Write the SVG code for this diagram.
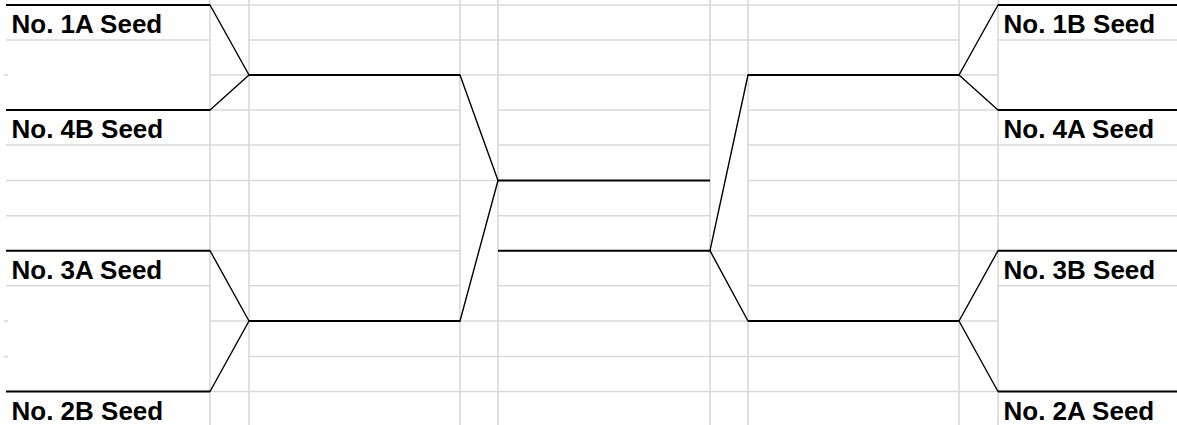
<svg xmlns="http://www.w3.org/2000/svg" width="1177" height="425" viewBox="0 0 1177 425">
<style>
.grid line{stroke:#d9d9d9;stroke-width:1.6;fill:none}
.slot{stroke:#000;stroke-width:2;fill:none}
.diag{stroke:#000;stroke-width:1.4;fill:none;stroke-linecap:round}
.lbl{font-family:"Liberation Sans",Arial,sans-serif;font-weight:bold;font-size:26px;fill:#000}
</style>
<rect width="1177" height="425" fill="#fff"/>
<g id="grid" class="grid">
<!-- vertical gridlines -->
<line x1="210" y1="0" x2="210" y2="425"/>
<line x1="249" y1="0" x2="249" y2="425"/>
<line x1="460" y1="0" x2="460" y2="425"/>
<line x1="498" y1="0" x2="498" y2="425"/>
<line x1="710" y1="0" x2="710" y2="425"/>
<line x1="748" y1="0" x2="748" y2="425"/>
<line x1="959" y1="0" x2="959" y2="425"/>
<line x1="998" y1="0" x2="998" y2="425"/>
<!-- col A stubs -->
<line x1="4" y1="75" x2="8" y2="75"/>
<line x1="4" y1="321" x2="8" y2="321"/>
<line x1="4" y1="356.5" x2="8" y2="356.5"/>
<!-- col B -->
<line x1="6" y1="40" x2="210" y2="40"/>
<line x1="6" y1="145" x2="210" y2="145"/>
<line x1="6" y1="180.5" x2="210" y2="180.5"/>
<line x1="6" y1="215.7" x2="210" y2="215.7"/>
<line x1="6" y1="285.7" x2="210" y2="285.7"/>
<!-- col C -->
<line x1="210" y1="5" x2="249" y2="5"/>
<line x1="210" y1="75" x2="249" y2="75"/>
<line x1="210" y1="110" x2="249" y2="110"/>
<line x1="210" y1="145" x2="249" y2="145"/>
<line x1="210" y1="180.5" x2="249" y2="180.5"/>
<line x1="210" y1="215.7" x2="249" y2="215.7"/>
<line x1="210" y1="250.7" x2="249" y2="250.7"/>
<line x1="210" y1="321" x2="249" y2="321"/>
<line x1="210" y1="391.5" x2="249" y2="391.5"/>
<!-- col D -->
<line x1="249" y1="5" x2="460" y2="5"/>
<line x1="249" y1="40" x2="460" y2="40"/>
<line x1="249" y1="110" x2="460" y2="110"/>
<line x1="249" y1="145" x2="460" y2="145"/>
<line x1="249" y1="180.5" x2="460" y2="180.5"/>
<line x1="249" y1="215.7" x2="460" y2="215.7"/>
<line x1="249" y1="250.7" x2="460" y2="250.7"/>
<line x1="249" y1="285.7" x2="460" y2="285.7"/>
<line x1="249" y1="356.5" x2="460" y2="356.5"/>
<line x1="249" y1="391.5" x2="460" y2="391.5"/>
<!-- col E -->
<line x1="460" y1="5" x2="498" y2="5"/>
<line x1="460" y1="40" x2="498" y2="40"/>
<line x1="460" y1="75" x2="498" y2="75"/>
<line x1="460" y1="180.5" x2="498" y2="180.5"/>
<line x1="460" y1="321" x2="498" y2="321"/>
<line x1="460" y1="356.5" x2="498" y2="356.5"/>
<line x1="460" y1="391.5" x2="498" y2="391.5"/>
<!-- col F -->
<line x1="498" y1="5" x2="710" y2="5"/>
<line x1="498" y1="40" x2="710" y2="40"/>
<line x1="498" y1="75" x2="710" y2="75"/>
<line x1="498" y1="110" x2="710" y2="110"/>
<line x1="498" y1="145" x2="710" y2="145"/>
<line x1="498" y1="215.7" x2="710" y2="215.7"/>
<line x1="498" y1="285.7" x2="710" y2="285.7"/>
<line x1="498" y1="321" x2="710" y2="321"/>
<line x1="498" y1="356.5" x2="710" y2="356.5"/>
<line x1="498" y1="391.5" x2="710" y2="391.5"/>
<!-- col G -->
<line x1="710" y1="5" x2="748" y2="5"/>
<line x1="710" y1="40" x2="748" y2="40"/>
<line x1="710" y1="75" x2="748" y2="75"/>
<line x1="710" y1="250.7" x2="748" y2="250.7"/>
<line x1="710" y1="321" x2="748" y2="321"/>
<line x1="710" y1="356.5" x2="748" y2="356.5"/>
<line x1="710" y1="391.5" x2="748" y2="391.5"/>
<!-- col H -->
<line x1="748" y1="5" x2="959" y2="5"/>
<line x1="748" y1="40" x2="959" y2="40"/>
<line x1="748" y1="110" x2="959" y2="110"/>
<line x1="748" y1="145" x2="959" y2="145"/>
<line x1="748" y1="180.5" x2="959" y2="180.5"/>
<line x1="748" y1="215.7" x2="959" y2="215.7"/>
<line x1="748" y1="250.7" x2="959" y2="250.7"/>
<line x1="748" y1="285.7" x2="959" y2="285.7"/>
<line x1="748" y1="356.5" x2="959" y2="356.5"/>
<line x1="748" y1="391.5" x2="959" y2="391.5"/>
<!-- col I -->
<line x1="959" y1="5" x2="998" y2="5"/>
<line x1="959" y1="75" x2="998" y2="75"/>
<line x1="959" y1="110" x2="998" y2="110"/>
<line x1="959" y1="145" x2="998" y2="145"/>
<line x1="959" y1="180.5" x2="998" y2="180.5"/>
<line x1="959" y1="215.7" x2="998" y2="215.7"/>
<line x1="959" y1="250.7" x2="998" y2="250.7"/>
<line x1="959" y1="321" x2="998" y2="321"/>
<line x1="959" y1="391.5" x2="998" y2="391.5"/>
<!-- col J -->
<line x1="998" y1="40" x2="1177" y2="40"/>
<line x1="998" y1="145" x2="1177" y2="145"/>
<line x1="998" y1="180.5" x2="1177" y2="180.5"/>
<line x1="998" y1="215.7" x2="1177" y2="215.7"/>
<line x1="998" y1="285.7" x2="1177" y2="285.7"/>
</g>
<g id="seed-1a"><line class="slot" x1="6" y1="5" x2="210" y2="5"/><text class="lbl" x="11.5" y="33.3">No. 1A Seed</text></g>
<g id="seed-4b"><line class="slot" x1="6" y1="110" x2="210" y2="110"/><text class="lbl" x="11.5" y="138">No. 4B Seed</text></g>
<g id="seed-3a"><line class="slot" x1="6" y1="250.7" x2="210" y2="250.7"/><text class="lbl" x="11.5" y="278.7">No. 3A Seed</text></g>
<g id="seed-2b"><line class="slot" x1="6" y1="391.5" x2="210" y2="391.5"/><text class="lbl" x="11.5" y="419.5">No. 2B Seed</text></g>
<g id="seed-1b"><line class="slot" x1="998" y1="5" x2="1177" y2="5"/><text class="lbl" x="1003.5" y="33.3">No. 1B Seed</text></g>
<g id="seed-4a"><line class="slot" x1="998" y1="110" x2="1177" y2="110"/><text class="lbl" x="1003.5" y="138">No. 4A Seed</text></g>
<g id="seed-3b"><line class="slot" x1="998" y1="250.7" x2="1177" y2="250.7"/><text class="lbl" x="1003.5" y="278.7">No. 3B Seed</text></g>
<g id="seed-2a"><line class="slot" x1="998" y1="391.5" x2="1177" y2="391.5"/><text class="lbl" x="1003.5" y="419.5">No. 2A Seed</text></g>
<g id="connectors">
<!-- left semifinal slots -->
<line class="slot" x1="249" y1="75" x2="460" y2="75"/>
<line class="slot" x1="249" y1="321" x2="460" y2="321"/>
<!-- final slots -->
<line class="slot" x1="498" y1="180.5" x2="710" y2="180.5"/>
<line class="slot" x1="498" y1="250.7" x2="710" y2="250.7"/>
<!-- right semifinal slots -->
<line class="slot" x1="748" y1="75" x2="959" y2="75"/>
<line class="slot" x1="748" y1="321" x2="959" y2="321"/>
<!-- left diagonals -->
<line class="diag" x1="210" y1="5" x2="249" y2="75"/>
<line class="diag" x1="210" y1="110" x2="249" y2="75"/>
<line class="diag" x1="210" y1="250.7" x2="249" y2="321"/>
<line class="diag" x1="210" y1="391.5" x2="249" y2="321"/>
<line class="diag" x1="460" y1="75" x2="498" y2="180.5"/>
<line class="diag" x1="460" y1="321" x2="498" y2="180.5"/>
<!-- right diagonals -->
<line class="diag" x1="710" y1="250.7" x2="748" y2="75"/>
<line class="diag" x1="710" y1="250.7" x2="748" y2="321"/>
<line class="diag" x1="998" y1="5" x2="959" y2="75"/>
<line class="diag" x1="998" y1="110" x2="959" y2="75"/>
<line class="diag" x1="998" y1="250.7" x2="959" y2="321"/>
<line class="diag" x1="998" y1="391.5" x2="959" y2="321"/>
</g>
</svg>
